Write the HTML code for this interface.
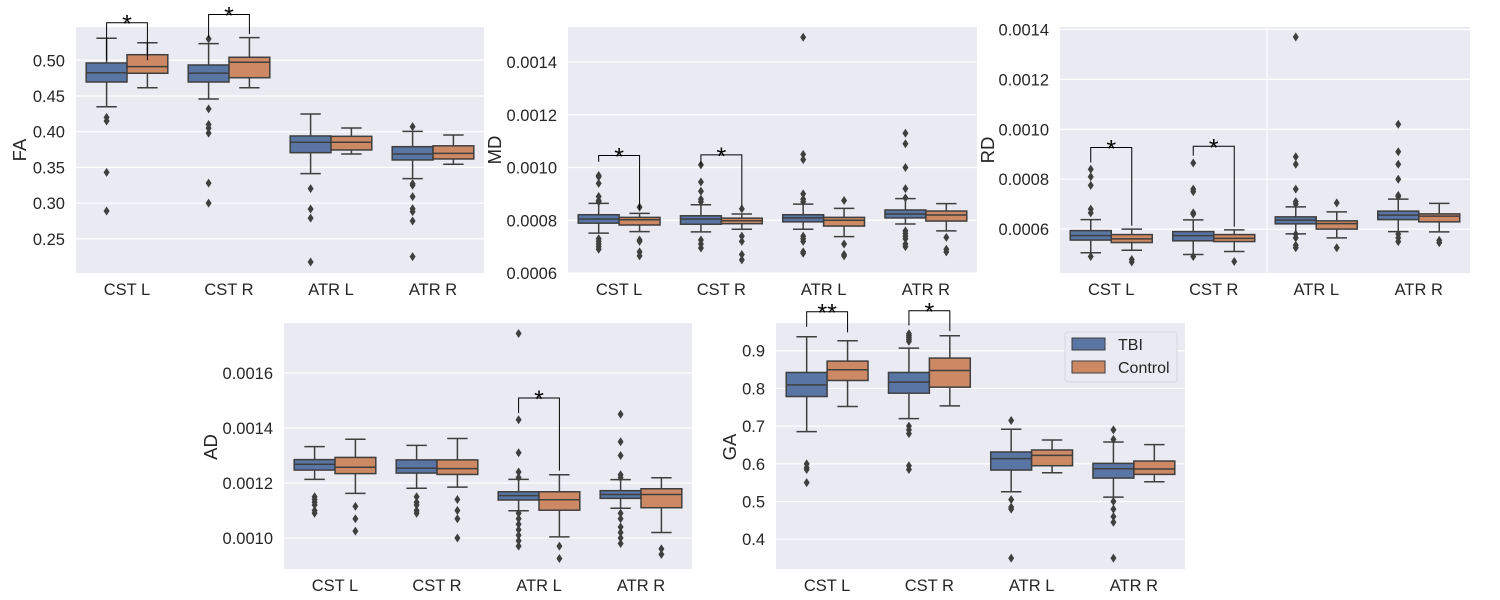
<!DOCTYPE html>
<html><head><meta charset="utf-8">
<style>
body{margin:0;background:#fff;}
svg{display:block;font-family:"Liberation Sans",Arial,sans-serif;}
</style></head>
<body>
<svg id="chart" width="1500" height="600" viewBox="0 0 1500 600" xmlns="http://www.w3.org/2000/svg"></svg>
<script>
const categories = ["CST L","CST R","ATR L","ATR R"];
// stats: [low whisker, q1, median, q3, high whisker]
const faTbi = [[0.435,0.4696,0.4826,0.4962,0.5308],[0.4458,0.4696,0.482,0.4934,0.5233],[0.3412,0.3706,0.3852,0.394,0.4248],[0.3342,0.3604,0.3688,0.379,0.4005]];
const faCtrl = [[0.4616,0.4818,0.4911,0.5078,0.5246],[0.4616,0.4756,0.4972,0.5042,0.5317],[0.3688,0.3744,0.3852,0.3935,0.4052],[0.3544,0.3618,0.3697,0.3802,0.3954]];
const faTbiOut = [[0.42,0.415,0.343,0.289],[0.53,0.432,0.41,0.405,0.398,0.328,0.300],[0.3202,0.2917,0.279,0.2175],[0.407,0.327,0.325,0.309,0.292,0.288,0.275,0.225]];
const faCtrlOut = [[],[],[],[]];
const faTicks = [0.25,0.30,0.35,0.40,0.45,0.50];
const faTickLabels = ["0.25","0.30","0.35","0.40","0.45","0.50"];
const faSig = [[0,"*",0.5466+0.006,0.5,0.5],[1,"*",0.5466+0.0175,0.5317,0.5367]];

const mdTbi = [[0.000751,0.000789,0.000805,0.000821,0.000864],[0.000756,0.000785,0.000805,0.000817,0.000859],[0.000766,0.000794,0.000809,0.000821,0.000861],[0.000786,0.000809,0.000824,0.000839,0.000882]];
const mdCtrl = [[0.000757,0.000782,0.000802,0.000811,0.000826],[0.000766,0.000787,0.000798,0.000808,0.000824],[0.000738,0.000778,0.0008,0.000811,0.000845],[0.00076,0.000797,0.00082,0.000835,0.000863]];
const mdTbiOut = [[0.00097,0.000965,0.00094,0.00089,0.000875,0.00087,0.00073,0.00072,0.00071,0.0007,0.00069],[0.00101,0.000945,0.00091,0.00088,0.00087,0.000725,0.00071,0.000695],[0.001494,0.00105,0.00103,0.0009,0.00088,0.00087,0.00074,0.00073,0.00072,0.00068,0.000675],[0.00113,0.00109,0.001,0.00092,0.000885,0.00076,0.00075,0.00074,0.00073,0.00071,0.0007]];
const mdCtrlOut = [[0.00085,0.000725,0.00072,0.00068,0.000665],[0.000843,0.00074,0.00072,0.00067,0.00065],[0.000875,0.00071,0.00067,0.000665],[0.000735,0.00069,0.00068]];
const mdTicks = [0.0006,0.0008,0.0010,0.0012,0.0014];
const mdTickLabels = ["0.0006","0.0008","0.0010","0.0012","0.0014"];
const mdSig = [[0,"*",0.0010455,0.001022,0.000838],[1,"*",0.0010478,0.001008,0.000853]];

const rdTbi = [[0.000505,0.000556,0.000574,0.000594,0.000638],[0.000498,0.000553,0.000574,0.00059,0.000637],[0.000581,0.000621,0.000636,0.000649,0.000689],[0.00059,0.000638,0.000656,0.000672,0.00072]];
const rdCtrl = [[0.000515,0.000546,0.000561,0.000578,0.0006],[0.00051,0.00055,0.000563,0.000578,0.000597],[0.000565,0.0006,0.000622,0.000633,0.000669],[0.000589,0.000629,0.000652,0.000661,0.000703]];
const rdTbiOut = [[0.00084,0.00081,0.000775,0.00068,0.000665,0.00049],[0.000865,0.00076,0.00075,0.000665,0.00066,0.00049],[0.00137,0.00089,0.00086,0.00076,0.00071,0.0007,0.00058,0.000565,0.000535,0.000525],[0.00102,0.00091,0.00086,0.0008,0.000735,0.00073,0.00058,0.000565,0.00055]];
const rdCtrlOut = [[0.000478,0.000468],[0.00047],[0.000705,0.000525],[0.000555,0.000545]];
const rdTicks = [0.0006,0.0008,0.0010,0.0012,0.0014];
const rdTickLabels = ["0.0006","0.0008","0.0010","0.0012","0.0014"];
const rdSig = [[0,"*",0.000927,0.000867,0.000614],[1,"*",0.000932,0.000894,0.00061]];

const adTbi = [[0.001213,0.001247,0.001268,0.001285,0.001332],[0.001181,0.001236,0.001254,0.001284,0.001337],[0.001099,0.001138,0.001154,0.001168,0.001213],[0.001108,0.001144,0.001158,0.001172,0.001212]];
const adCtrl = [[0.001162,0.001234,0.001257,0.001293,0.001359],[0.001185,0.001231,0.001252,0.001284,0.001362],[0.001004,0.001101,0.001139,0.001168,0.00123],[0.00102,0.00111,0.001158,0.001179,0.001219]];
const adTbiOut = [[0.00115,0.00114,0.00113,0.00112,0.0011,0.00109],[0.00115,0.00113,0.00112,0.0011,0.00109],[0.001744,0.00143,0.00131,0.00124,0.00122,0.00109,0.00107,0.00105,0.00103,0.00101,0.00099,0.00097],[0.00145,0.00135,0.0013,0.00123,0.00122,0.00109,0.00107,0.00104,0.00102,0.001,0.00098]];
const adCtrlOut = [[0.001115,0.00107,0.001025],[0.00114,0.0011,0.00107,0.001],[0.00097,0.000925],[0.00096,0.00094]];
const adTicks = [0.0010,0.0012,0.0014,0.0016];
const adTickLabels = ["0.0010","0.0012","0.0014","0.0016"];
const adSig = [[2,"*",0.001509,0.001454,0.001245]];

const gaTbi = [[0.6855,0.7785,0.8096,0.8424,0.9372],[0.72,0.7874,0.8167,0.8424,0.9071],[0.5259,0.5835,0.6137,0.6314,0.6917],[0.5117,0.5622,0.5871,0.6012,0.658]];
const gaCtrl = [[0.752,0.8211,0.8495,0.8725,0.9266],[0.7537,0.8034,0.8477,0.8805,0.9399],[0.5764,0.595,0.6225,0.6367,0.6633],[0.5525,0.572,0.5862,0.6074,0.6509]];
const gaTbiOut = [[0.6,0.59,0.585,0.55],[0.945,0.94,0.935,0.93,0.925,0.7,0.69,0.68,0.595,0.585],[0.715,0.505,0.485,0.48,0.35],[0.69,0.665,0.5,0.48,0.46,0.445,0.35]];
const gaCtrlOut = [[],[],[],[]];
const gaTicks = [0.4,0.5,0.6,0.7,0.8,0.9];
const gaTickLabels = ["0.4","0.5","0.6","0.7","0.8","0.9"];
const gaSig = [[0,"**",1.0035,0.9637,0.9486],[1,"*",1.0062,0.9672,0.9522]];

const NS="http://www.w3.org/2000/svg";
const svg=document.getElementById('chart');
const BLUE="#5875a4", ORANGE="#cc8963", LINE="#3f3f3f";
function mk(tag,attrs,parent){const e=document.createElementNS(NS,tag);for(const k in attrs)e.setAttribute(k,attrs[k]);(parent||svg).appendChild(e);return e;}

const panels=[
 {id:"fa",label:"FA",x0:76,x1:484,y0:27,y1:273,d0:0.2021,d1:0.5466,tbi:faTbi,ctrl:faCtrl,to:faTbiOut,co:faCtrlOut,ticks:faTicks,tl:faTickLabels,sig:faSig,lx:20,ly:150},
 {id:"md",label:"MD",x0:568,x1:977,y0:27,y1:273,d0:0.0006,d1:0.001533,tbi:mdTbi,ctrl:mdCtrl,to:mdTbiOut,co:mdCtrlOut,ticks:mdTicks,tl:mdTickLabels,sig:mdSig,lx:495,ly:150},
 {id:"rd",label:"RD",x0:1060,x1:1470,y0:27,y1:273,d0:0.000424,d1:0.00141,tbi:rdTbi,ctrl:rdCtrl,to:rdTbiOut,co:rdCtrlOut,ticks:rdTicks,tl:rdTickLabels,sig:rdSig,lx:988,ly:150,vgrid:1267},
 {id:"ad",label:"AD",x0:284,x1:692,y0:323,y1:569,d0:0.000887,d1:0.001782,tbi:adTbi,ctrl:adCtrl,to:adTbiOut,co:adCtrlOut,ticks:adTicks,tl:adTickLabels,sig:adSig,lx:211,ly:447},
 {id:"ga",label:"GA",x0:776,x1:1185,y0:323,y1:569,d0:0.321,d1:0.9736,tbi:gaTbi,ctrl:gaCtrl,to:gaTbiOut,co:gaCtrlOut,ticks:gaTicks,tl:gaTickLabels,sig:gaSig,lx:730,ly:447}
];

panels.forEach(p=>{
  const g=mk('g',{});
  
  
  const yS=v=>p.y1-(v-p.d0)/(p.d1-p.d0)*(p.y1-p.y0);
  const step=(p.x1-p.x0)/categories.length;
  const xC=i=>p.x0+step*(i+0.5);
  const bg=mk('rect',{x:p.x0,y:p.y0,width:p.x1-p.x0,height:p.y1-p.y0,fill:"#eaeaf2"},g);
  
  
  p.ticks.forEach((t,i)=>{
    const y=yS(t);
    const gl=mk('line',{x1:p.x0,x2:p.x1,y1:y,y2:y,stroke:"#fff","stroke-width":1.2},g);
    
    
    const tx=mk('text',{x:p.x0-11,y:y+6,"text-anchor":"end","font-size":16.5,fill:"#262626"},g);
    tx.textContent=p.tl[i];
    
    
  });
  if(p.vgrid){
    const vg=mk('line',{x1:p.vgrid,x2:p.vgrid,y1:p.y0,y2:p.y1,stroke:"#fff","stroke-width":1.2},g);
    
    
  }
  const yl=mk('text',{x:p.lx,y:p.ly,"text-anchor":"middle","font-size":18.5,fill:"#262626",transform:`rotate(-90 ${p.lx} ${p.ly})`,dy:6},g);
  yl.textContent=p.label;
  
  
  categories.forEach((c,i)=>{
    const tx=mk('text',{x:xC(i),y:p.y1+22,"text-anchor":"middle","font-size":16.5,fill:"#262626"},g);
    tx.textContent=c;
    
    
    [[p.tbi,p.to,BLUE,-1,'tbi'],[p.ctrl,p.co,ORANGE,1,'control']].forEach(([st,out,col,side,nm])=>{
      const s=st[i];
      const w=step*0.4;
      const cx=xC(i)+side*w/2;
      const bx=mk('g',{},g);
      
      
      mk('line',{x1:cx,x2:cx,y1:yS(s[0]),y2:yS(s[1]),stroke:LINE,"stroke-width":1.5},bx);
      mk('line',{x1:cx,x2:cx,y1:yS(s[3]),y2:yS(s[4]),stroke:LINE,"stroke-width":1.5},bx);
      mk('line',{x1:cx-w/4,x2:cx+w/4,y1:yS(s[0]),y2:yS(s[0]),stroke:LINE,"stroke-width":1.5},bx);
      mk('line',{x1:cx-w/4,x2:cx+w/4,y1:yS(s[4]),y2:yS(s[4]),stroke:LINE,"stroke-width":1.5},bx);
      mk('rect',{x:cx-w/2,y:yS(s[3]),width:w,height:yS(s[1])-yS(s[3]),fill:col,stroke:LINE,"stroke-width":1.5},bx);
      mk('line',{x1:cx-w/2,x2:cx+w/2,y1:yS(s[2]),y2:yS(s[2]),stroke:LINE,"stroke-width":1.5},bx);
      out[i].forEach(v=>{
        const y=yS(v);
        const d=mk('path',{d:`M${cx} ${y-4.5}L${cx+3} ${y}L${cx} ${y+4.5}L${cx-3} ${y}Z`,fill:LINE},bx);
        
        
      });
    });
  });
  p.sig.forEach(([i,lab,top,l,r])=>{
    const w=step*0.4;
    const xl=xC(i)-w/2, xr=xC(i)+w/2, yt=yS(top);
    const sg=mk('g',{},g);
    
    
    mk('path',{d:`M${xl} ${yS(l)}L${xl} ${yt}L${xr} ${yt}L${xr} ${yS(r)}`,fill:"none",stroke:"#000","stroke-width":1},sg);
    const st=mk('text',{x:(xl+xr)/2,y:yt+10,"text-anchor":"middle","font-size":25,fill:"#000"},sg);
    st.textContent=lab;
  });
});

// legend
const lg=mk('g',{});


mk('rect',{x:1065,y:332,width:112,height:50,rx:3,fill:"#eaeaf2",stroke:"#d5d5dd","stroke-width":1},lg);
[["TBI",BLUE,338],["Control",ORANGE,361]].forEach(([t,c,y])=>{
  const e=mk('g',{},lg);
  
  
  mk('rect',{x:1072,y:y,width:33,height:12,fill:c,stroke:LINE,"stroke-width":1},e);
  const tx=mk('text',{x:1118,y:y+12,"font-size":16,fill:"#262626"},e);
  tx.textContent=t;
});
</script>
</body></html>
